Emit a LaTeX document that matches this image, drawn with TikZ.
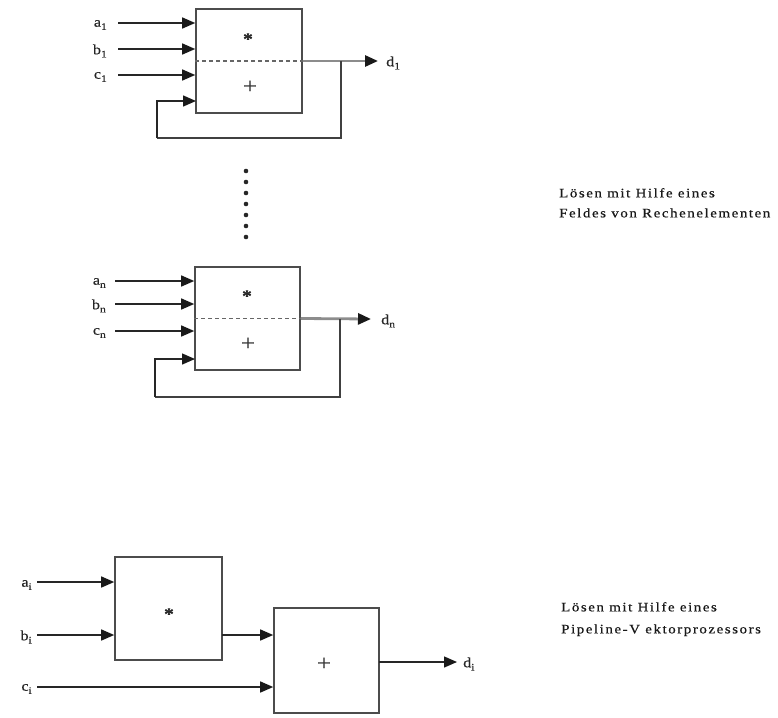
\documentclass[tikz,border=0pt]{standalone}
\usepackage{fontspec}
\setmainfont{Liberation Serif}[FakeStretch=1.15, LetterSpace=12, FakeBold=0.6]
\usetikzlibrary{arrows.meta}
\newcommand\lowsub[1]{\raisebox{-0.5ex}{\fontsize{10}{11}\selectfont #1}}
\tikzset{
  tip/.style={-{Triangle[length=13pt,width=11pt,color=black!90]}},
  box/.style={draw=black!70, line width=1.6pt, minimum width=#1, inner sep=0pt},
  arr/.style={draw=black!85, line width=1.4pt, tip},
  ln/.style={draw=black!75, line width=1.4pt},
  outarr/.style={draw=black!45, line width=2.8pt, tip},
  dashline/.style={draw=black!60, line width=1.3pt, dash pattern=on 4pt off 3pt},
  lbl/.style={font=\fontsize{14}{16}\selectfont, inner sep=1pt, text=black!85},
  sym/.style={font=\fontsize{17}{20}\selectfont, inner sep=0pt, text=black!85},
  plus/.style={font=\fontsize{22}{24}\selectfont, inner sep=0pt, text=black!80},
  txt/.style={font=\fontsize{13}{20}\selectfont, align=left, inner sep=0pt, text=black!90},
}
\begin{document}
\begin{tikzpicture}[x=1pt,y=-1pt]
\useasboundingbox (0,0) rectangle (778,717);

% ---------- top block ----------
\node[box=106pt, minimum height=104pt] (B1) at (249,61) {};
\draw[dashline] (B1.west) -- (B1.east);
\node[sym] (s1) at (249,39) {\textbf{*}};
\node[plus] (p1) at (250,87) {+};
\node[lbl, anchor=east] (a1) at (108,25) {a\lowsub{1}};
\node[lbl, anchor=east] (b1) at (108,51) {b\lowsub{1}};
\node[lbl, anchor=east] (c1) at (108,77) {c\lowsub{1}};
\coordinate (ia1) at (118,23);
\coordinate (ib1) at (118,49);
\coordinate (ic1) at (118,75);
\draw[arr] (ia1) -- (ia1 -| B1.west);
\draw[arr] (ib1) -- (ib1 -| B1.west);
\draw[arr] (ic1) -- (ic1 -| B1.west);
\node[lbl, anchor=west] (d1) at (385,63) {d\lowsub{1}};
\coordinate (o1) at (378,61);
\draw[outarr] (B1.east) -- (o1);
\coordinate (t1) at (341,61);
\coordinate (f1) at (157,138);
\coordinate (i1) at (196,101);
\draw[ln] (t1) |- (f1);
\draw[arr] (f1) |- (i1);

% ---------- dots ----------
\foreach \k in {0,...,6} {
  \fill[black!85] (246,171+11*\k) circle (2.3pt);
}

% ---------- second block ----------
\node[box=105pt, minimum height=103pt] (B2) at (247.5,318.5) {};
\draw[dashline] (B2.west) -- (B2.east);
\node[sym] (s2) at (248,296) {\textbf{*}};
\node[plus] (p2) at (248,344) {+};
\node[lbl, anchor=east] (a2) at (107,283) {a\lowsub{n}};
\node[lbl, anchor=east] (b2) at (107,306) {b\lowsub{n}};
\node[lbl, anchor=east] (c2) at (107,333) {c\lowsub{n}};
\coordinate (ia2) at (115,281);
\coordinate (ib2) at (115,304);
\coordinate (ic2) at (115,331);
\draw[arr] (ia2) -- (ia2 -| B2.west);
\draw[arr] (ib2) -- (ib2 -| B2.west);
\draw[arr] (ic2) -- (ic2 -| B2.west);
\node[lbl, anchor=west] (d2) at (380,321) {d\lowsub{n}};
\coordinate (o2) at (371,319);
\draw[outarr] (B2.east) -- (o2);
\coordinate (t2) at (340,319);
\coordinate (f2) at (155,397);
\coordinate (i2) at (195,359);
\draw[ln] (t2) |- (f2);
\draw[arr] (f2) |- (i2);

% ---------- pipeline ----------
\node[box=107pt, minimum height=103pt] (PA) at (168.5,608.5) {};
\node[box=105pt, minimum height=105pt] (PB) at (326.5,660.5) {};
\node[sym] (sA) at (170,614) {\textbf{*}};
\node[plus] (pB) at (324,664) {+};
\node[lbl, anchor=east] (ai) at (33,585) {a\lowsub{i}};
\node[lbl, anchor=east] (bi) at (33,637) {b\lowsub{i}};
\node[lbl, anchor=east] (ci) at (33,689) {c\lowsub{i}};
\coordinate (iai) at (37,582);
\coordinate (ibi) at (37,635);
\coordinate (ici) at (37,687);
\draw[arr] (iai) -- (iai -| PA.west);
\draw[arr] (ibi) -- (ibi -| PA.west);
\draw[arr] (ici) -- (ici -| PB.west);
\coordinate (m) at (222,635);
\draw[arr] (m) -- (m -| PB.west);
\node[lbl, anchor=west] (di) at (462,664) {d\lowsub{i}};
\coordinate (oi) at (379,662);
\draw[arr] (oi) -- (457,662);

% ---------- texts ----------
\node[txt, anchor=north west] (T1) at (559,188) {Lösen mit Hilfe eines\\Feldes von Rechenelementen};
\node[txt, anchor=north west, font=\fontsize{13}{22}\selectfont] (T2) at (561,602) {Lösen mit Hilfe eines\\Pipeline-V ektorprozessors};
\end{tikzpicture}
\end{document}
